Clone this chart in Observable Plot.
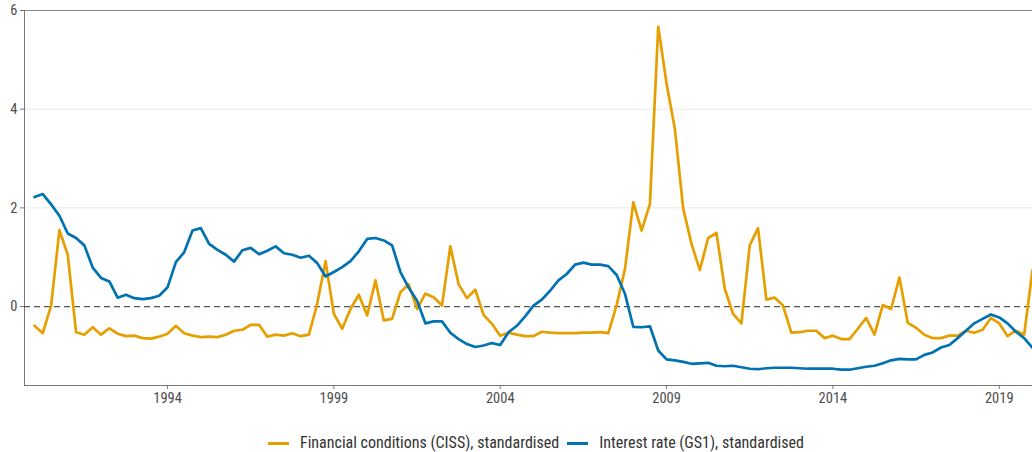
<!DOCTYPE html>
<html>
<head>
<meta charset="utf-8">
<script src="https://cdn.jsdelivr.net/npm/d3@7"></script>
<script src="https://cdn.jsdelivr.net/npm/@observablehq/plot@0.6"></script>
<style>
  body { margin: 0; background: #fff; font-family: "Roboto Condensed", "Liberation Sans Narrow", Roboto, sans-serif; }
  #chart svg { display: block; }
  #legend { position: relative; height: 42px; font-size: 16px; color: #333; }
  #legend .row { position: absolute; top: 23px; left: 0; width: 1032px; display: flex; justify-content: center; align-items: center; line-height: 20px; padding-left: 40px; box-sizing: border-box; }
  #legend .item { display: flex; align-items: center; margin: 0 4px; }
  #legend .sw { width: 21px; height: 3px; margin-right: 11px; }
</style>
</head>
<body>
<div id="chart"></div>
<div id="legend"><div class="row"></div></div>
<script>
// Quarterly observations, 1990 Q1 to 2020 Q1
const startYear = 1990;
const seriesNames = ["Financial conditions (CISS), standardised", "Interest rate (GS1), standardised"];
const seriesColors = ["#E69F00", "#0072B2"];
const xTicks = [1994, 1999, 2004, 2009, 2014, 2019];
const yTicks = [0, 2, 4, 6];

const ciss = [
  -0.39, -0.54, 0.02, 1.55, 1.05, -0.52, -0.57, -0.42, -0.57, -0.44,
  -0.55, -0.60, -0.59, -0.64, -0.65, -0.61, -0.55, -0.39, -0.54, -0.59,
  -0.62, -0.61, -0.62, -0.57, -0.49, -0.47, -0.37, -0.37, -0.61, -0.57,
  -0.59, -0.54, -0.60, -0.57, 0.06, 0.92, -0.15, -0.45, -0.05, 0.24,
  -0.18, 0.53, -0.28, -0.25, 0.29, 0.45, -0.05, 0.26, 0.19, 0.02,
  1.22, 0.45, 0.17, 0.34, -0.17, -0.35, -0.59, -0.53, -0.57, -0.60,
  -0.60, -0.51, -0.53, -0.54, -0.54, -0.54, -0.53, -0.53, -0.52, -0.54,
  0.03, 0.76, 2.11, 1.54, 2.08, 5.67, 4.52, 3.60, 1.99, 1.27,
  0.74, 1.39, 1.49, 0.36, -0.15, -0.34, 1.24, 1.59, 0.14, 0.18,
  0.02, -0.53, -0.52, -0.49, -0.49, -0.64, -0.59, -0.66, -0.66, -0.45,
  -0.23, -0.57, 0.03, -0.05, 0.59, -0.33, -0.43, -0.57, -0.64, -0.64,
  -0.59, -0.59, -0.49, -0.53, -0.47, -0.23, -0.34, -0.60, -0.49, -0.57,
  0.74
];

const gs1 = [
  2.22, 2.28, 2.07, 1.84, 1.48, 1.39, 1.24, 0.79, 0.58, 0.51,
  0.18, 0.24, 0.17, 0.15, 0.17, 0.22, 0.39, 0.90, 1.10, 1.54,
  1.59, 1.27, 1.15, 1.05, 0.91, 1.14, 1.19, 1.06, 1.13, 1.22,
  1.08, 1.05, 0.99, 1.03, 0.88, 0.61, 0.70, 0.80, 0.92, 1.12,
  1.37, 1.39, 1.34, 1.24, 0.70, 0.38, 0.12, -0.34, -0.30, -0.30,
  -0.53, -0.66, -0.76, -0.82, -0.79, -0.74, -0.78, -0.52, -0.39, -0.20,
  0.02, 0.14, 0.32, 0.53, 0.66, 0.85, 0.89, 0.85, 0.85, 0.82,
  0.64, 0.26, -0.41, -0.42, -0.40, -0.89, -1.07, -1.09, -1.12, -1.16,
  -1.15, -1.14, -1.20, -1.21, -1.20, -1.23, -1.26, -1.27, -1.25, -1.24,
  -1.24, -1.24, -1.25, -1.26, -1.26, -1.26, -1.26, -1.28, -1.28, -1.25,
  -1.22, -1.20, -1.15, -1.09, -1.06, -1.07, -1.07, -0.98, -0.93, -0.83,
  -0.78, -0.64, -0.49, -0.34, -0.25, -0.16, -0.22, -0.34, -0.51, -0.64,
  -0.84
];

const data = [];
ciss.forEach((v, i) => data.push({ t: startYear + i / 4, v, s: seriesNames[0] }));
gs1.forEach((v, i) => data.push({ t: startYear + i / 4, v, s: seriesNames[1] }));

const xDomain = [1989.7, 2020.0];
const yDomain = [-1.6, 6];

const chart = Plot.plot({
  width: 1032,
  height: 410,
  marginLeft: 24,
  marginRight: 0,
  marginTop: 10,
  marginBottom: 25,
  style: { fontFamily: '"Roboto Condensed", "Liberation Sans Narrow", Roboto, sans-serif', fontSize: "14.5px", color: "#4d4d4d", background: "#fff" },
  x: { domain: xDomain, label: null },
  y: { domain: yDomain, label: null },
  color: { domain: seriesNames, range: seriesColors },
  marks: [
    Plot.ruleY([2, 4], { stroke: "#ebebeb", strokeWidth: 1 }),
    Plot.ruleY([6], { stroke: "#888", strokeWidth: 1 }),
    Plot.ruleY([yDomain[0]], { stroke: "#777", strokeWidth: 1 }),
    Plot.ruleX([xDomain[0]], { stroke: "#777", strokeWidth: 1 }),
    Plot.ruleY([0], { stroke: "#555", strokeWidth: 1.3, strokeDasharray: "6,4" }),
    Plot.lineY(data, { x: "t", y: "v", z: "s", stroke: "s", strokeWidth: 2.7, clip: true }),
    Plot.axisX({ ticks: xTicks, tickFormat: d => String(d), tickSize: 4, tickPadding: 3, stroke: "#777", fill: "#4d4d4d", label: null }),
    Plot.axisY({ ticks: yTicks, tickSize: 4, tickPadding: 3, stroke: "#777", fill: "#4d4d4d", label: null })
  ]
});
document.getElementById("chart").appendChild(chart);

const row = document.querySelector("#legend .row");
seriesNames.forEach((name, i) => {
  const item = document.createElement("div");
  item.className = "item";
  const sw = document.createElement("span");
  sw.className = "sw";
  sw.style.background = seriesColors[i];
  const label = document.createElement("span");
  label.textContent = name;
  item.appendChild(sw);
  item.appendChild(label);
  row.appendChild(item);
});
</script>
</body>
</html>
